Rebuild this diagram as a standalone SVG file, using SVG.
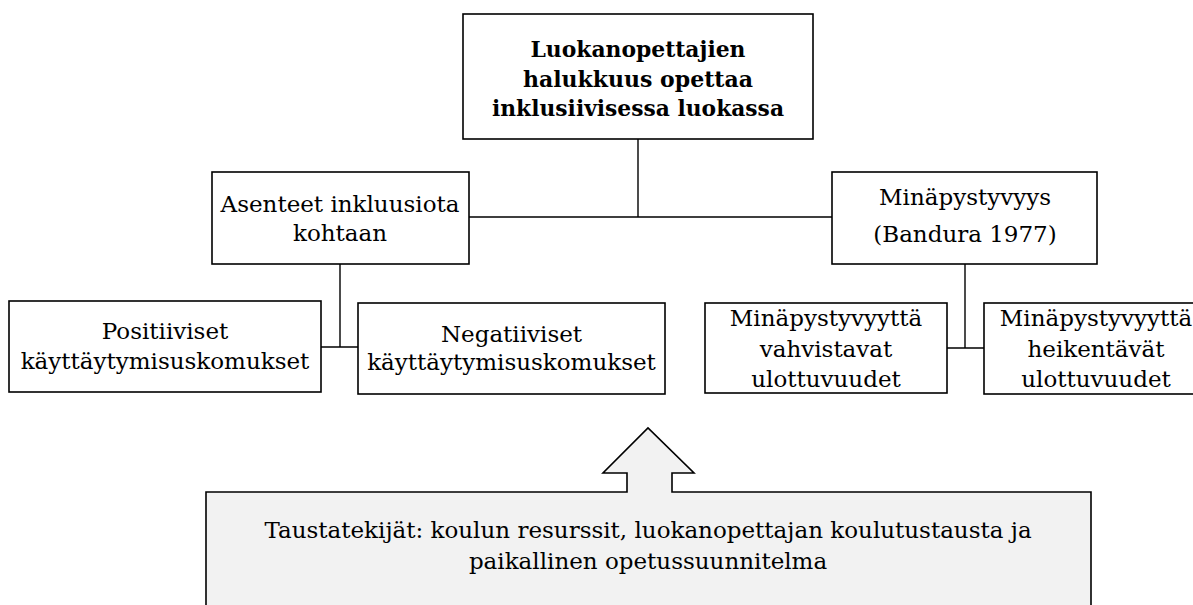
<svg xmlns="http://www.w3.org/2000/svg" width="1193" height="605" viewBox="0 0 1193 605">
<style>
.box{fill:#ffffff;stroke:#000000;stroke-width:1.6}
.t{font-family:"DejaVu Serif","Liberation Serif",serif;font-size:23px;fill:#000000;text-anchor:middle}
.b{font-weight:bold;font-size:22px}
.c{fill:none;stroke:#000000;stroke-width:1.4}
</style>
<rect width="1193" height="605" fill="#ffffff"/>
<g id="connectors">
<path class="c" d="M638,139 V217 M469,217 H832"/>
<path class="c" d="M340,264 V347 M321,347 H358"/>
<path class="c" d="M965,264 V348 M947,348 H984"/>
</g>
<g id="main">
<rect class="box" x="463" y="14" width="350" height="125"/>
<text class="t b" x="638" y="57" textLength="215" lengthAdjust="spacingAndGlyphs">Luokanopettajien</text>
<text class="t b" x="638" y="87" textLength="230" lengthAdjust="spacingAndGlyphs">halukkuus opettaa</text>
<text class="t b" x="638" y="116" textLength="292" lengthAdjust="spacingAndGlyphs">inklusiivisessa luokassa</text>
</g>
<g id="asenteet">
<rect class="box" x="212" y="172" width="257" height="92"/>
<text class="t" x="340" y="212">Asenteet inkluusiota</text>
<text class="t" x="340" y="241">kohtaan</text>
</g>
<g id="minapystyvyys">
<rect class="box" x="832" y="172" width="265" height="92"/>
<text class="t" x="965" y="205">Minäpystyvyys</text>
<text class="t" x="965" y="242">(Bandura 1977)</text>
</g>
<g id="positiiviset">
<rect class="box" x="9" y="301" width="312" height="91"/>
<text class="t" x="165" y="339">Positiiviset</text>
<text class="t" x="165" y="369">käyttäytymisuskomukset</text>
</g>
<g id="negatiiviset">
<rect class="box" x="358" y="303" width="307" height="91"/>
<text class="t" x="511.5" y="342">Negatiiviset</text>
<text class="t" x="511.5" y="370">käyttäytymisuskomukset</text>
</g>
<g id="vahvistavat">
<rect class="box" x="705" y="303" width="242" height="90"/>
<text class="t" x="826" y="326">Minäpystyvyyttä</text>
<text class="t" x="826" y="357">vahvistavat</text>
<text class="t" x="826" y="387">ulottuvuudet</text>
</g>
<g id="heikentavat">
<rect class="box" x="984" y="303" width="224" height="91"/>
<text class="t" x="1096" y="326">Minäpystyvyyttä</text>
<text class="t" x="1096" y="357">heikentävät</text>
<text class="t" x="1096" y="387">ulottuvuudet</text>
</g>
<g id="taustatekijat">
<path d="M206,610 V492 H627 V473 H603 L648,428 L694,473 H672 V492 H1091 V610" fill="#f2f2f2" stroke="#000000" stroke-width="1.6"/>
<text class="t" x="648" y="538">Taustatekijät: koulun resurssit, luokanopettajan koulutustausta ja</text>
<text class="t" x="648" y="569">paikallinen opetussuunnitelma</text>
</g>
</svg>
